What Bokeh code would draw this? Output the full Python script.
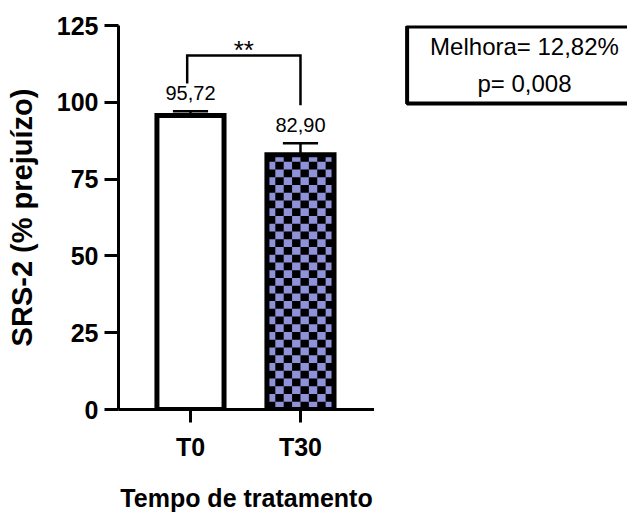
import numpy as np
from bokeh.plotting import figure
from bokeh.layouts import row
from bokeh.models import Range1d, Label, FixedTicker
from bokeh.core.properties import value
from bokeh.embed import file_html
from bokeh.resources import INLINE

# --- data -------------------------------------------------------------
categories = ["T0", "T30"]
means = [95.72, 82.90]
errors = [1.4, 3.8]
mean_labels = ["95,72", "82,90"]
y_ticks = [0, 25, 50, 75, 100, 125]
stats_lines = ["Melhora= 12,82%", "p= 0,008"]
significance = "**"

# --- style ------------------------------------------------------------
FONT = "Liberation Sans"
LAVENDER = "#8f91d9"
BAR_W = 0.61
CHECK_COLS = 8
CHECK_H = 2.52          # checker cell height in y units

xs = np.arange(1, len(categories) + 1, dtype=float)
means_a = np.array(means)
tops = means_a + np.array(errors)

# --- bar chart --------------------------------------------------------
p = figure(width=374, height=515, output_backend="svg", toolbar_location=None,
           x_range=Range1d(0.3455, 2.673), y_range=Range1d(0, 125),
           min_border_left=118, min_border_right=0,
           min_border_top=25, min_border_bottom=106)
p.outline_line_color = None
p.grid.visible = False
p.background_fill_color = "white"
p.border_fill_color = "white"

# bar fills
p.vbar(x=xs, top=means_a, width=BAR_W, fill_color=["white", LAVENDER], line_color=None)

# checkerboard texture on the T30 bar
cx, h = xs[1], means_a[1]
cell_w = BAR_W / CHECK_COLS
n_rows = int(np.ceil(h / CHECK_H))
left, right, bottom, top = [], [], [], []
for r in range(n_rows):
    for c in range(CHECK_COLS):
        if (r + c) % 2 == 0:
            left.append(cx - BAR_W / 2 + c * cell_w)
            right.append(cx - BAR_W / 2 + (c + 1) * cell_w)
            bottom.append(r * CHECK_H)
            top.append(min((r + 1) * CHECK_H, h))
p.quad(left=left, right=right, bottom=bottom, top=top, fill_color="black", line_color=None)

# bar outlines
p.vbar(x=xs, top=means_a, width=BAR_W, fill_color=None, line_color="black",
       line_width=5, line_join="miter")

# error bars (upper only)
CAP = 0.16
p.segment(x0=xs, y0=means_a, x1=xs, y1=tops, line_color="black", line_width=2.5)
p.segment(x0=xs - CAP, y0=tops, x1=xs + CAP, y1=tops, line_color="black", line_width=2.5)

# mean value labels
p.text(x=xs, y=tops, text=mean_labels, text_align="center", text_baseline="alphabetic",
       y_offset=-18, text_font=value(FONT), text_font_size="20px", text_color="black")

# significance bracket
bx0, bx1 = xs[0] - 0.03, xs[1]
p.line(x=[bx0, bx0, bx1, bx1], y=[106.1, 115.2, 115.2, 99.0], line_color="black",
       line_width=2.5, line_join="miter")
p.text(x=[(bx0 + bx1) / 2], y=[115.2], text=[significance], text_align="center",
       text_baseline="alphabetic", y_offset=-6, text_font=value(FONT),
       text_font_size="26px", text_color="black")

# axes
for ax in (p.xaxis[0], p.yaxis[0]):
    ax.axis_line_width = 3
    ax.major_tick_line_width = 3
    ax.major_tick_in = 0
    ax.minor_tick_line_color = None
    ax.major_label_text_font = FONT
    ax.major_label_text_font_style = "bold"
    ax.major_label_text_font_size = "25px"
    ax.major_label_text_color = "black"
    ax.axis_label_text_font = FONT
    ax.axis_label_text_font_style = "bold"
    ax.axis_label_text_color = "black"

p.xaxis.ticker = FixedTicker(ticks=list(xs))
p.xaxis.major_label_overrides = {float(x): c for x, c in zip(xs, categories)}
p.xaxis.major_tick_out = 13
p.xaxis.major_label_standoff = 10
p.xaxis.axis_label = "Tempo de tratamento"
p.xaxis.axis_label_text_font_size = "25px"
p.xaxis.axis_label_standoff = 20

p.yaxis.ticker = FixedTicker(ticks=y_ticks)
p.yaxis.major_tick_out = 14
p.yaxis.major_label_standoff = 6
p.yaxis.axis_label = "SRS-2 (% prejuízo)"
p.yaxis.axis_label_text_font_size = "29px"
p.yaxis.axis_label_standoff = 16

# --- statistics panel -------------------------------------------------
s = figure(width=253, height=515, output_backend="svg", toolbar_location=None,
           x_range=Range1d(0, 253), y_range=Range1d(515, 0),
           x_axis_type=None, y_axis_type=None, min_border=0)
s.outline_line_color = None
s.background_fill_color = "white"
s.border_fill_color = "white"
s.add_layout(Label(x=150, y=53, text="\n".join(stats_lines), text_align="center",
                   text_baseline="middle", text_font=FONT, text_font_size="24px",
                   text_line_height=1.4, text_color="black",
                   background_fill_color="white", border_line_color="black",
                   border_line_width=4, padding=(23, 6)))

layout = row(p, s, spacing=0)
open("out.html", "w").write(file_html(layout, INLINE))
